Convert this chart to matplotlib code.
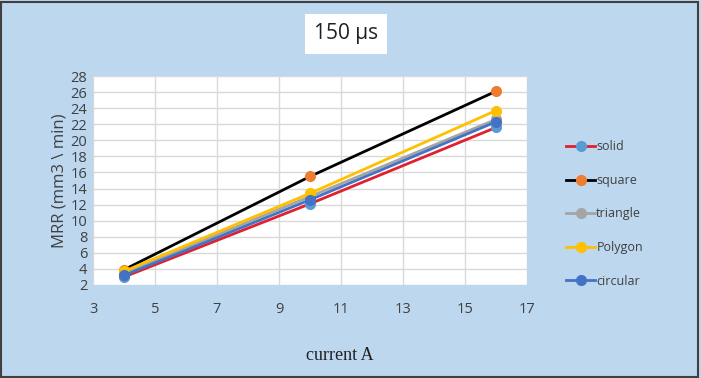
import matplotlib.pyplot as plt
from matplotlib.patches import Rectangle

# data
current = [4, 10, 16]
series_names = ["solid", "square", "triangle", "Polygon", "circular"]
solid = [3.0, 12.1, 21.6]
square = [3.9, 15.5, 26.1]
triangle = [3.5, 13.0, 22.6]
polygon = [3.7, 13.4, 23.7]
circular = [3.2, 12.6, 22.3]

x_ticks = [3, 5, 7, 9, 11, 13, 15, 17]
y_ticks = list(range(2, 29, 2))

line_colors = ["#E0202E", "#000000", "#A5A5A5", "#FFC000", "#4472C4"]
marker_colors = ["#5B9BD5", "#ED7D31", "#A5A5A5", "#FFC000", "#4472C4"]

bg = "#BDD7EE"
fig = plt.figure(figsize=(7.01, 3.78), dpi=100, facecolor=bg)
ax = fig.add_axes([93 / 701, 1 - 285 / 378, (527 - 93) / 701, (285 - 76) / 378])
ax.set_facecolor("white")

for name, vals, lc, mc in zip(series_names, [solid, square, triangle, polygon, circular],
                              line_colors, marker_colors):
    ax.plot(current, vals, color=lc, linewidth=2, marker="o", markersize=7,
            markerfacecolor=mc, markeredgecolor=mc, label=name)

ax.set_xlim(3, 17)
ax.set_ylim(2, 28)
ax.set_xticks(x_ticks)
ax.set_yticks(y_ticks)
ax.grid(True, color="#D9D9D9", linewidth=1)
ax.set_axisbelow(True)
for s in ax.spines.values():
    s.set_visible(False)
ax.tick_params(length=0, labelsize=10.5, colors="#404040")
for lbl in ax.get_xticklabels() + ax.get_yticklabels():
    lbl.set_family("Open Sans")
ax.tick_params(axis="x", pad=12)
ax.tick_params(axis="y", pad=4)

ax.set_ylabel("MRR (mm3 \\ min)", fontsize=12, color="#404040", family="Open Sans", labelpad=2)
fig.text(340 / 701, 1 - 355 / 378, "current A", fontsize=13, family="Liberation Serif",
         ha="center", va="center", color="#202020")

fig.text(346 / 701, 1 - 34 / 378, "150 µs", fontsize=15, family="Open Sans",
         ha="center", va="center", color="#202020",
         bbox=dict(boxstyle="square,pad=0.45", facecolor="white", edgecolor="none"))

leg = fig.legend(loc="center left", bbox_to_anchor=(555 / 701, 1 - 214 / 378), frameon=False,
                 prop={"family": "Open Sans", "size": 9}, handlelength=2.3, handletextpad=0.1,
                 labelspacing=1.65, labelcolor="#404040")

fig.patches.append(Rectangle((0.002, 0.003), 0.994, 0.992, transform=fig.transFigure,
                             fill=False, edgecolor="#404040", linewidth=1.5))

fig.savefig("out.png", dpi=100, facecolor=bg)
